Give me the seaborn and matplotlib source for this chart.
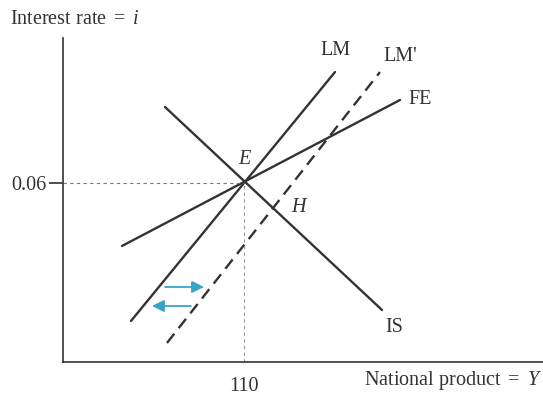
import pandas as pd
import matplotlib.pyplot as plt
import seaborn as sns

# curve end points (national product, interest rate)
curves = ['LM', "LM'", 'FE', 'IS']
curve_x = [[98.7, 119.1], [102.3, 123.6], [97.8, 125.6], [102.1, 123.8]]
curve_y = [[0.0324, 0.0822], [0.0280, 0.0822], [0.0474, 0.0766], [0.0752, 0.0346]]
curve_style = ['-', '--', '-', '-']

eq_x = 110
eq_y = 0.06

rows = []
for name, xs, ys in zip(curves, curve_x, curve_y):
    for x, y in zip(xs, ys):
        rows.append({'curve': name, 'Y': x, 'i': y})
df = pd.DataFrame(rows)

sns.set_style('white')
plt.rcParams['font.family'] = ['Liberation Serif', 'DejaVu Serif']
plt.rcParams['mathtext.fontset'] = 'custom'
plt.rcParams['mathtext.rm'] = 'Liberation Serif'
plt.rcParams['mathtext.it'] = 'Liberation Serif:italic'
ink = '#333333'
fs = 14.5

fig = plt.figure(figsize=(5.43, 3.98), dpi=100)
ax = fig.add_axes([0.116, 0.0905, 0.884, 0.814])

for name, ls in zip(curves, curve_style):
    sns.lineplot(data=df[df['curve'] == name], x='Y', y='i', ax=ax,
                 color=ink, linewidth=1.7, linestyle=ls, dashes=False)
ax.lines[1].set_dashes([5, 3])

ax.set_xlim(91.9, 139.9)
ax.set_ylim(0.0242, 0.089)

# guide lines to the equilibrium
ax.plot([91.9, eq_x], [eq_y, eq_y], ls=(0, (3, 3)), color='#777777', lw=0.8)
ax.plot([eq_x, eq_x], [0.0242, eq_y], ls=(0, (3, 3)), color='#999999', lw=0.8)

sns.despine(ax=ax)
for s in ['left', 'bottom']:
    ax.spines[s].set_color(ink)
    ax.spines[s].set_linewidth(1.2)
ax.set_xticks([eq_x])
ax.set_xticklabels(['110'])
ax.set_yticks([eq_y])
ax.set_yticklabels(['0.06'])
ax.tick_params(axis='y', length=10, width=1.2, color=ink, labelsize=fs,
               labelcolor=ink, pad=2, left=True)
ax.tick_params(axis='x', length=0, labelsize=fs, labelcolor=ink, pad=11, bottom=True)
ax.set_xlabel('')
ax.set_ylabel('')

kw = dict(fontsize=fs, color=ink, ha='center', va='center')
ax.text(119.2, 0.0866, 'LM', **kw)
ax.text(125.6, 0.0854, "LM'", **kw)
ax.text(127.6, 0.0768, 'FE', **kw)
ax.text(125.0, 0.0310, 'IS', **kw)
ax.text(110.0, 0.0646, 'E', style='italic', **kw)
ax.text(115.4, 0.0550, 'H', style='italic', **kw)

fig.text(0.018, 0.952, r'Interest rate $=$ $\mathit{i}$', fontsize=fs, color=ink,
         va='center')
fig.text(0.998, 0.043, r'National product $=$ $\mathit{Y}$', fontsize=fs,
         color=ink, ha='right', va='center')

# shift arrows
cyan = '#3aa3c8'
ax.annotate('', xy=(106.0, 0.0392), xytext=(102.1, 0.0392),
            arrowprops=dict(arrowstyle='-|>', color=cyan, lw=1.3, mutation_scale=18,
                            shrinkA=0, shrinkB=0))
ax.annotate('', xy=(100.8, 0.0354), xytext=(104.7, 0.0354),
            arrowprops=dict(arrowstyle='-|>', color=cyan, lw=1.3, mutation_scale=18,
                            shrinkA=0, shrinkB=0))

fig.savefig('out.png', dpi=100)
